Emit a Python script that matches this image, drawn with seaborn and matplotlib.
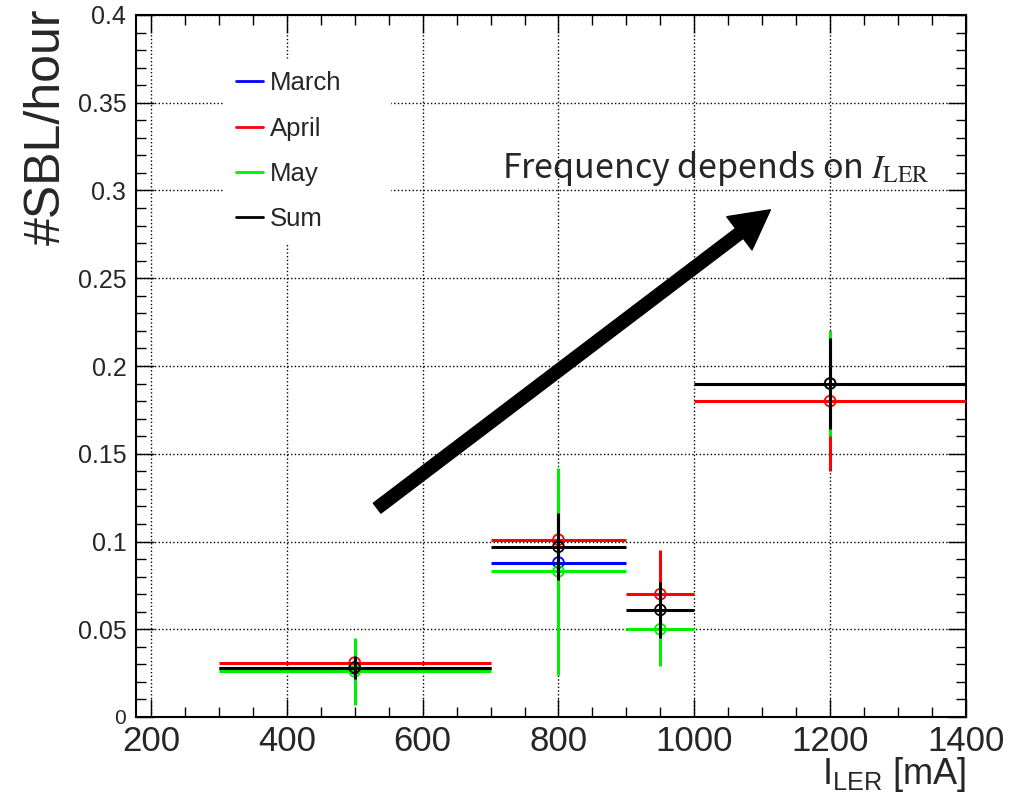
import numpy as np
import pandas as pd
import seaborn as sns
import matplotlib.pyplot as plt
from matplotlib.lines import Line2D
from matplotlib.ticker import MultipleLocator

# -------------------------------------------------------------------
# Data
# -------------------------------------------------------------------

bin_lo = [300, 700, 900, 1000]
bin_hi = [700, 900, 1000, 1400]
bin_center = [500, 800, 950, 1200]

march_rate = [0.0277, 0.088, np.nan, np.nan]
march_err = [0.012, 0.035, np.nan, np.nan]
april_rate = [0.031, 0.101, 0.070, 0.180]
april_err = [0.013, 0.035, 0.025, 0.040]
may_rate = [0.026, 0.083, 0.050, 0.190]
may_err = [0.019, 0.059, 0.021, 0.030]
sum_rate = [0.0282, 0.097, 0.061, 0.190]
sum_err = [0.0068, 0.019, 0.016, 0.026]

months = ["March", "April", "May", "Sum"]
colors = {"March": "#0000ff", "April": "#ff0000", "May": "#00ee00", "Sum": "#000000"}

rows = []
for month, rate, err in zip(months,
                            [march_rate, april_rate, may_rate, sum_rate],
                            [march_err, april_err, may_err, sum_err]):
    for lo, hi, c, r, e in zip(bin_lo, bin_hi, bin_center, rate, err):
        rows.append({"month": month, "lo": lo, "hi": hi, "current": c,
                     "rate": r, "err": e})
df = pd.DataFrame(rows).dropna()

# -------------------------------------------------------------------
# Style
# -------------------------------------------------------------------

sns.set_style("ticks")
plt.rcParams["font.family"] = ["Liberation Sans", "DejaVu Sans"]
plt.rcParams["mathtext.fontset"] = "custom"
plt.rcParams["mathtext.rm"] = "Liberation Sans"
plt.rcParams["mathtext.it"] = "Liberation Sans:italic"

# -------------------------------------------------------------------
# Plot
# -------------------------------------------------------------------

fig = plt.figure(figsize=(10.12, 8.0), dpi=100)
ax = fig.add_axes([136 / 1012, 83 / 800, 830 / 1012, 702 / 800])

for z, month in enumerate(months):
    sub = df[df["month"] == month]
    col = colors[month]
    x = sub["current"].to_numpy()
    xerr = np.vstack([x - sub["lo"].to_numpy(), sub["hi"].to_numpy() - x])
    ax.errorbar(x, sub["rate"], xerr=xerr, yerr=sub["err"], fmt="none",
                ecolor=col, elinewidth=2.2, capsize=0, zorder=3 + z)
    sns.scatterplot(x=x, y=sub["rate"].to_numpy(), ax=ax, marker="o", s=60,
                    color=col, facecolor="none", edgecolor=col,
                    linewidth=1.3, zorder=3 + z, legend=False)

ax.set_xlim(178, 1400)
ax.set_ylim(0, 0.4)
ax.xaxis.set_major_locator(MultipleLocator(200))
ax.xaxis.set_minor_locator(MultipleLocator(50))
ax.yaxis.set_minor_locator(MultipleLocator(0.01))
ax.set_yticks(np.arange(0, 0.401, 0.05))
ax.set_yticklabels(["0", "0.05", "0.1", "0.15", "0.2", "0.25", "0.3", "0.35", "0.4"])

ax.grid(True, which="major", color="black", linestyle=":", linewidth=1.0)
ax.set_axisbelow(True)
for sp in ax.spines.values():
    sp.set_visible(True)
    sp.set_linewidth(1.5)
    sp.set_color("black")
ax.tick_params(which="both", direction="in", top=True, right=True,
               width=1.0, color="black")
ax.tick_params(which="major", length=13)
ax.tick_params(which="minor", length=7)
ax.tick_params(axis="y", labelsize=18, pad=7)
ax.tick_params(axis="x", labelsize=25, pad=6)
for lab in ax.get_yticklabels():
    if lab.get_text() == "0":
        lab.set_fontsize(15)

ax.set_xlabel(r"I$_{\mathrm{LER}}$ [mA]", loc="right", fontsize=26)
ax.xaxis.set_label_coords(1.0, -0.054)
ax.set_ylabel("#SBL/hour", loc="top", fontsize=36)
ax.yaxis.set_label_coords(-0.107, 1.009)
ax.yaxis.label.set(ha="right", va="center", rotation_mode="anchor")

# Legend
handles = [Line2D([], [], color=colors[m], lw=2) for m in months]
leg = ax.legend(handles, months, loc="upper left", mode="expand",
                bbox_to_anchor=(0.106, 0.887, 0.2, 0.05), frameon=True,
                fontsize=18.5, handlelength=1.05, handletextpad=0.27,
                labelspacing=0.83, borderpad=0.47, borderaxespad=0)
leg.get_frame().set_facecolor("white")
leg.get_frame().set_edgecolor("white")
leg.get_frame().set_alpha(1.0)
leg.set_zorder(10)

# Arrow and annotation
ax.annotate("", xy=(1112, 0.289), xytext=(533, 0.119),
            arrowprops=dict(facecolor="black", edgecolor="black", width=9,
                            headwidth=30, headlength=28, shrink=0),
            zorder=9)
ax.text(717, 0.307, r"Frequency depends on $I_{\mathrm{LER}}$", fontsize=24.5,
        fontfamily=["Noto Sans CJK JP", "DejaVu Sans"], math_fontfamily="stix",
        ha="left", va="baseline", zorder=9)

plt.savefig("out.png", dpi=100)
plt.close()
